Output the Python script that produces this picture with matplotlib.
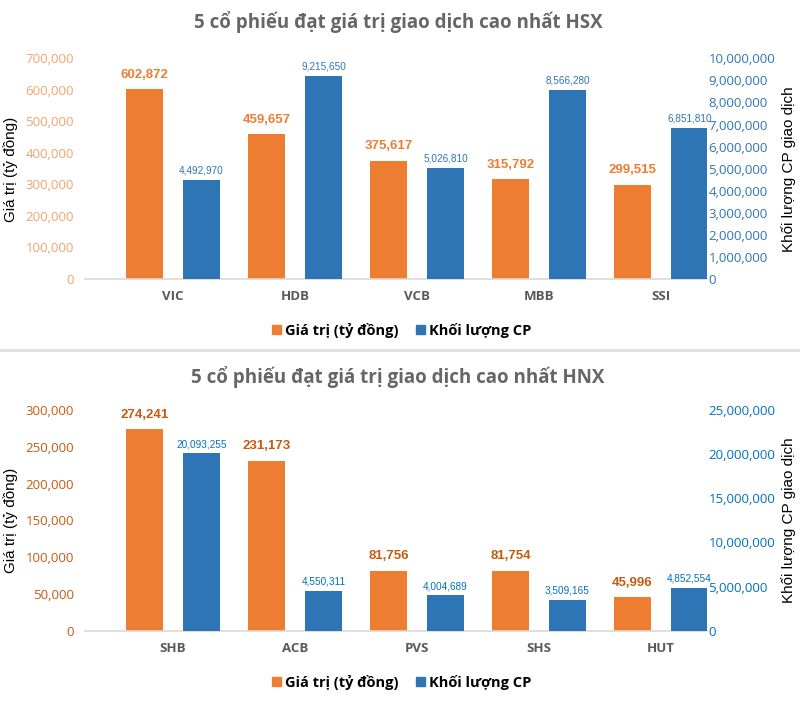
import matplotlib
matplotlib.use("Agg")
import matplotlib.pyplot as plt
from matplotlib.lines import Line2D
from matplotlib.patches import Patch
from matplotlib.ticker import FuncFormatter
import numpy as np

# ---------------- data ----------------
hsx_codes = ["VIC", "HDB", "VCB", "MBB", "SSI"]
hsx_value = [602872, 459657, 375617, 315792, 299515]
hsx_volume = [4492970, 9215650, 5026810, 8566280, 6851810]

hnx_codes = ["SHB", "ACB", "PVS", "SHS", "HUT"]
hnx_value = [274241, 231173, 81756, 81754, 45996]
hnx_volume = [20093255, 4550311, 4004689, 3509165, 4852554]

title_hsx = "5 cổ phiếu đạt giá trị giao dịch cao nhất HSX"
title_hnx = "5 cổ phiếu đạt giá trị giao dịch cao nhất HNX"
left_label = "Giá trị (tỷ đồng)"
right_label = "Khối lượng CP giao dịch"
legend_labels = ["Giá trị (tỷ đồng)", "Khối lượng CP"]

# ---------------- fonts ----------------
TICKF = "Open Sans"
TITLEF = "Open Sans"
NARROW = "Liberation Sans"

ORANGE = "#ED7D31"
BLUE = "#2E75B6"

fig = plt.figure(figsize=(8, 7.27), dpi=100)
W, H = 800, 727


def px_axes(x0, x1, ytop, ybot):
    return fig.add_axes([x0 / W, 1 - ybot / H, (x1 - x0) / W, (ybot - ytop) / H])


fmt = FuncFormatter(lambda v, p: f"{int(v):,}")


def draw(ax, codes, vals, vols, ymax, rmax, rstep, lstep,
         ltick_col, rtick_col, olab_col, blab_col, ycenter):
    x = np.arange(len(codes))
    off = 0.234
    bw = 0.31
    ax.bar(x - off, vals, bw, color=ORANGE, zorder=2)
    ax.set_ylim(0, ymax)
    ax.set_xlim(-0.721, len(codes) - 1 + 0.377)
    ax.set_yticks(np.arange(0, ymax + 1, lstep))
    ax.yaxis.set_major_formatter(fmt)
    ax.set_xticks(x)
    ax.set_xticklabels(codes, fontfamily=TICKF, fontweight="bold",
                       color="#595959", fontsize=9.5)
    for s in ["top", "left", "right"]:
        ax.spines[s].set_visible(False)
    ax.spines["bottom"].set_color("#D9D9D9")
    ax.spines["bottom"].set_linewidth(1.2)
    ax.tick_params(axis="x", length=0, pad=8)
    ax.tick_params(axis="y", length=0, labelcolor=ltick_col, labelsize=9.5, pad=8)
    for t in ax.get_yticklabels():
        t.set_fontfamily(TICKF)
    for xi, v in zip(x, vals):
        ax.annotate(f"{v:,}", (xi - off, v), xytext=(0, 6), textcoords="offset points",
                    ha="center", va="bottom", fontfamily=NARROW,
                    fontweight="bold", fontsize=9.5, color=olab_col)

    ax2 = ax.twinx()
    ax2.bar(x + off, vols, bw, color=BLUE, zorder=2)
    ax2.set_ylim(0, rmax)
    ax2.set_yticks(np.arange(0, rmax + 1, rstep))
    ax2.yaxis.set_major_formatter(fmt)
    for s in ["top", "left", "right", "bottom"]:
        ax2.spines[s].set_visible(False)
    ax2.tick_params(axis="y", length=0, labelcolor=rtick_col, labelsize=9.5, pad=1)
    for t in ax2.get_yticklabels():
        t.set_fontfamily(TICKF)
    for xi, v in zip(x, vols):
        ax2.annotate(f"{v:,}", (xi + off, v), xytext=(0, 3), textcoords="offset points",
                     ha="center", va="bottom", fontfamily=NARROW,
                     fontsize=7.2, color=blab_col)

    fig.text(11 / W, 1 - ycenter / H, left_label, rotation=90, ha="center", va="center",
             fontfamily="Liberation Sans", fontsize=11, color="black")
    fig.text(789 / W, 1 - ycenter / H, right_label, rotation=90, ha="center", va="center",
             fontfamily="Liberation Sans", fontsize=11, color="black")
    return ax2


ax1 = px_axes(85, 707, 58.3, 279)
draw(ax1, hsx_codes, hsx_value, hsx_volume, 700000, 10000000, 1000000, 100000,
     "#F4A36C", BLUE, ORANGE, BLUE, 169)

ax3 = px_axes(85, 707, 410, 630.7)
draw(ax3, hnx_codes, hnx_value, hnx_volume, 300000, 25000000, 5000000, 50000,
     "#C55A11", "#0070C0", "#C55A11", "#0070C0", 520)

fig.text(398 / W, 1 - 22 / H, title_hsx, ha="center", va="center",
         fontfamily=TITLEF, fontweight="bold", fontsize=13.5, color="#666666")
fig.text(398 / W, 1 - 377 / H, title_hnx, ha="center", va="center",
         fontfamily=TITLEF, fontweight="bold", fontsize=13.5, color="#666666")

fig.add_artist(Line2D([0, 1], [1 - 350 / H, 1 - 350 / H], color="#E0E0E0", lw=2))

handles = [Patch(color=ORANGE), Patch(color=BLUE)]
for yc in (330, 682):
    fig.legend(handles, legend_labels, loc="center", bbox_to_anchor=(402 / W, 1 - yc / H),
               ncol=2, frameon=False, handlelength=0.6, handleheight=0.6,
               handletextpad=0.3, columnspacing=1.2,
               prop={"family": "Open Sans", "weight": "bold", "size": 10.5})

fig.savefig("out.png", dpi=100)
